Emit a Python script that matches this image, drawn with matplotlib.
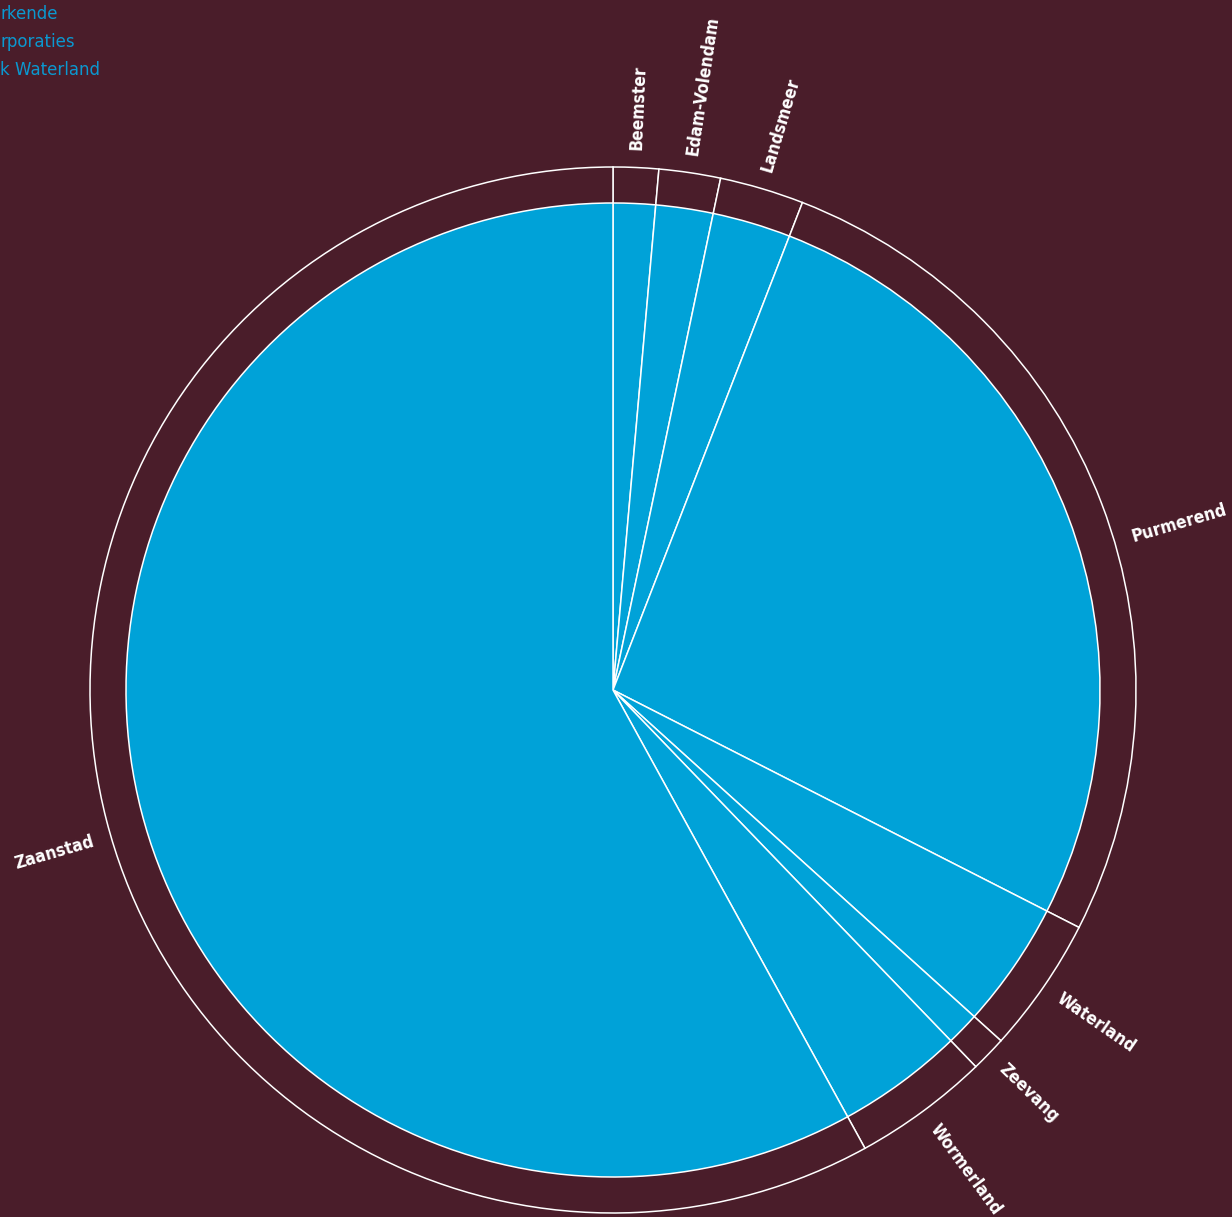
import numpy as np
import matplotlib.pyplot as plt

# share per municipality (%)
gemeenten = ['Beemster', 'Edam-Volendam', 'Landsmeer', 'Purmerend',
             'Waterland', 'Zeevang', 'Wormerland', 'Zaanstad']
aandeel = [1.4, 1.9, 2.6, 26.6, 4.2, 1.1, 4.2, 58.0]

legend_items = ['rkende', 'rporaties', 'k Waterland']

bg = '#4a1d2a'
blue = '#00a2d8'

W, H = 1232, 1217
cx, cy = 613, 690   # centre in pixels (from top-left)

# the original nudges a couple of labels away from the wedge middle (degrees)
label_nudge = {'Purmerend': -4.5, 'Zaanstad': 1.8}

fig = plt.figure(figsize=(W / 100, H / 100), dpi=100, facecolor=bg)
ax = fig.add_axes([0, 0, 1, 1])
ax.set_facecolor(bg)

# outer ring: same wedges, background fill, white outline
outer, _ = ax.pie(aandeel, radius=523, startangle=90, counterclock=False,
                  colors=[bg] * len(aandeel),
                  wedgeprops=dict(edgecolor='white', linewidth=1.1))
# inner blue pie
ax.pie(aandeel, radius=487, startangle=90, counterclock=False,
       colors=[blue] * len(aandeel),
       wedgeprops=dict(edgecolor='white', linewidth=1.1))

# pie() resets the limits, so set them afterwards
ax.set_xlim(-cx, W - cx)
ax.set_ylim(-(H - cy), cy)
ax.set_aspect('equal')
ax.axis('off')

# radial labels
for w, name in zip(outer, gemeenten):
    deg = (w.theta1 + w.theta2) / 2 + label_nudge.get(name, 0)
    th = np.deg2rad(deg)
    r = 541
    x, y = r * np.cos(th), r * np.sin(th)
    if x >= 0:
        rot, ha = deg, 'left'
    else:
        rot, ha = deg + 180, 'right'
    ax.text(x, y, name, rotation=rot, rotation_mode='anchor', ha=ha,
            va='center', color='white', fontsize=12.5, fontweight='bold',
            fontstretch='condensed')

# clipped legend in the top-left corner
for i, t in enumerate(legend_items):
    fig.text(0, 1 - (14 + 28 * i) / H, t, ha='left', va='center',
             color='#0b98d0', fontsize=12)

fig.savefig('out.png', dpi=100, facecolor=bg)
